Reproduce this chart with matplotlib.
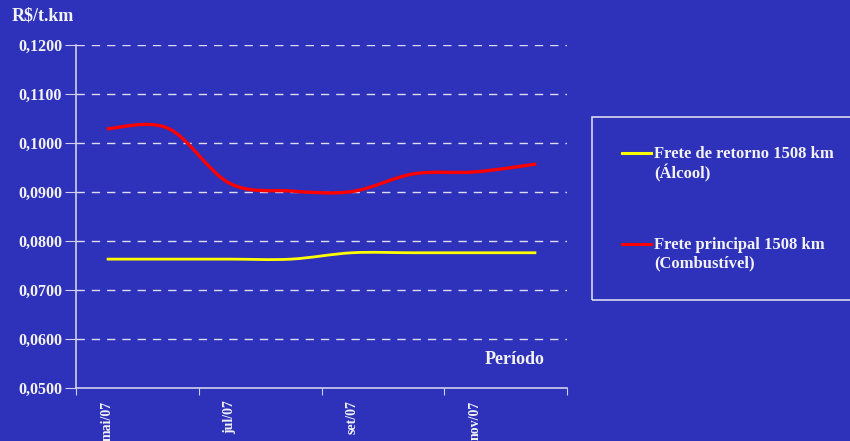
import numpy as np
import matplotlib.pyplot as plt
from matplotlib.path import Path
from matplotlib.patches import PathPatch, Rectangle
from matplotlib.lines import Line2D

# monthly freight values, R$/t.km
months = ["mai/07", "jun/07", "jul/07", "ago/07", "set/07", "out/07", "nov/07", "dez/07"]
retorno = [0.0763, 0.0763, 0.0763, 0.0763, 0.0776, 0.0776, 0.0776, 0.0776]
principal = [0.1029, 0.1030, 0.0918, 0.0902, 0.0901, 0.0937, 0.0941, 0.0957]
yticks = [0.05, 0.06, 0.07, 0.08, 0.09, 0.10, 0.11, 0.12]

bg = "#2e31b9"
fg = "#f2f2f2"
serif = ["Liberation Serif", "DejaVu Serif"]


def smooth_path(xs, ys):
    # Excel style smoothed line: cubic bezier through every point
    p = np.column_stack([xs, ys]).astype(float)
    ext = np.vstack([p[0], p, p[-1]])
    verts = [p[0]]
    codes = [Path.MOVETO]
    for i in range(len(p) - 1):
        c1 = ext[i + 1] + (ext[i + 2] - ext[i]) / 6
        c2 = ext[i + 2] - (ext[i + 3] - ext[i + 1]) / 6
        verts += [c1, c2, ext[i + 2]]
        codes += [Path.CURVE4] * 3
    return Path(verts, codes)


fig = plt.figure(figsize=(8.5, 4.41), dpi=100, facecolor=bg)
ax = fig.add_axes([76 / 850, 1 - 388 / 441, 491 / 850, 343 / 441], facecolor=bg)

x = np.arange(len(months))
ax.add_patch(PathPatch(smooth_path(x, retorno), fill=False, edgecolor="#ffff00",
                       lw=2.0, capstyle="butt", zorder=3))
ax.add_patch(PathPatch(smooth_path(x, principal), fill=False, edgecolor="#ff0000",
                       lw=2.4, capstyle="butt", zorder=3))

ax.set_xlim(-0.5, len(months) - 0.5)
ax.set_ylim(0.05, 0.12)

for v in yticks[1:]:
    ax.axhline(v, color="#dcdcf2", lw=1.0, dashes=(6, 5), zorder=1)

ax.set_yticks(yticks)
ax.set_yticklabels([f"{v:.4f}".replace(".", ",") for v in yticks],
                   fontsize=11.5, fontweight="bold", family=serif, color=fg)
ax.set_xticks(np.arange(-0.5, len(months), 2))
ax.set_xticklabels([])
ax.set_xticks(x[::2], minor=True)
ax.set_xticklabels(months[::2], minor=True, rotation=90, fontsize=10,
                   fontweight="bold", family=serif, color=fg, va="top", ha="center")
ax.tick_params(axis="x", which="minor", length=0, pad=9)
ax.tick_params(axis="x", which="major", length=5, color="#d0d0ea", direction="out")
ax.tick_params(axis="y", length=8, color="#d0d0ea", pad=2)

for s in ["top", "right"]:
    ax.spines[s].set_visible(False)
for s in ["left", "bottom"]:
    ax.spines[s].set_color("#d0d0ea")
    ax.spines[s].set_linewidth(1.2)

ax.text(0.955, 0.082, "Período", transform=ax.transAxes, ha="right", va="center",
        fontsize=13, fontweight="bold", family=serif, color=fg)
fig.text(12 / 850, 1 - 16 / 441, "R$/t.km", ha="left", va="center",
         fontsize=13, fontweight="bold", family=serif, color=fg)

# legend box
fig.add_artist(Rectangle((592 / 850, 1 - 300 / 441), 262 / 850, 183 / 441,
                         transform=fig.transFigure, fill=False,
                         edgecolor="#d8d8f0", lw=1.2))
entries = [("Frete de retorno 1508 km\n(Álcool)", "#ffff00", 153, 164),
           ("Frete principal 1508 km\n(Combustível)", "#ff0000", 244, 254)]
for label, col, ly, ty in entries:
    fig.add_artist(Line2D([622 / 850, 651 / 850], [1 - ly / 441, 1 - ly / 441],
                          transform=fig.transFigure, color=col, lw=2.2))
    fig.text(654 / 850, 1 - ty / 441, label, ha="left", va="center",
             fontsize=12, fontweight="bold", family=serif, color=fg,
             linespacing=1.2)

fig.savefig("out.png", dpi=100, facecolor=bg)
